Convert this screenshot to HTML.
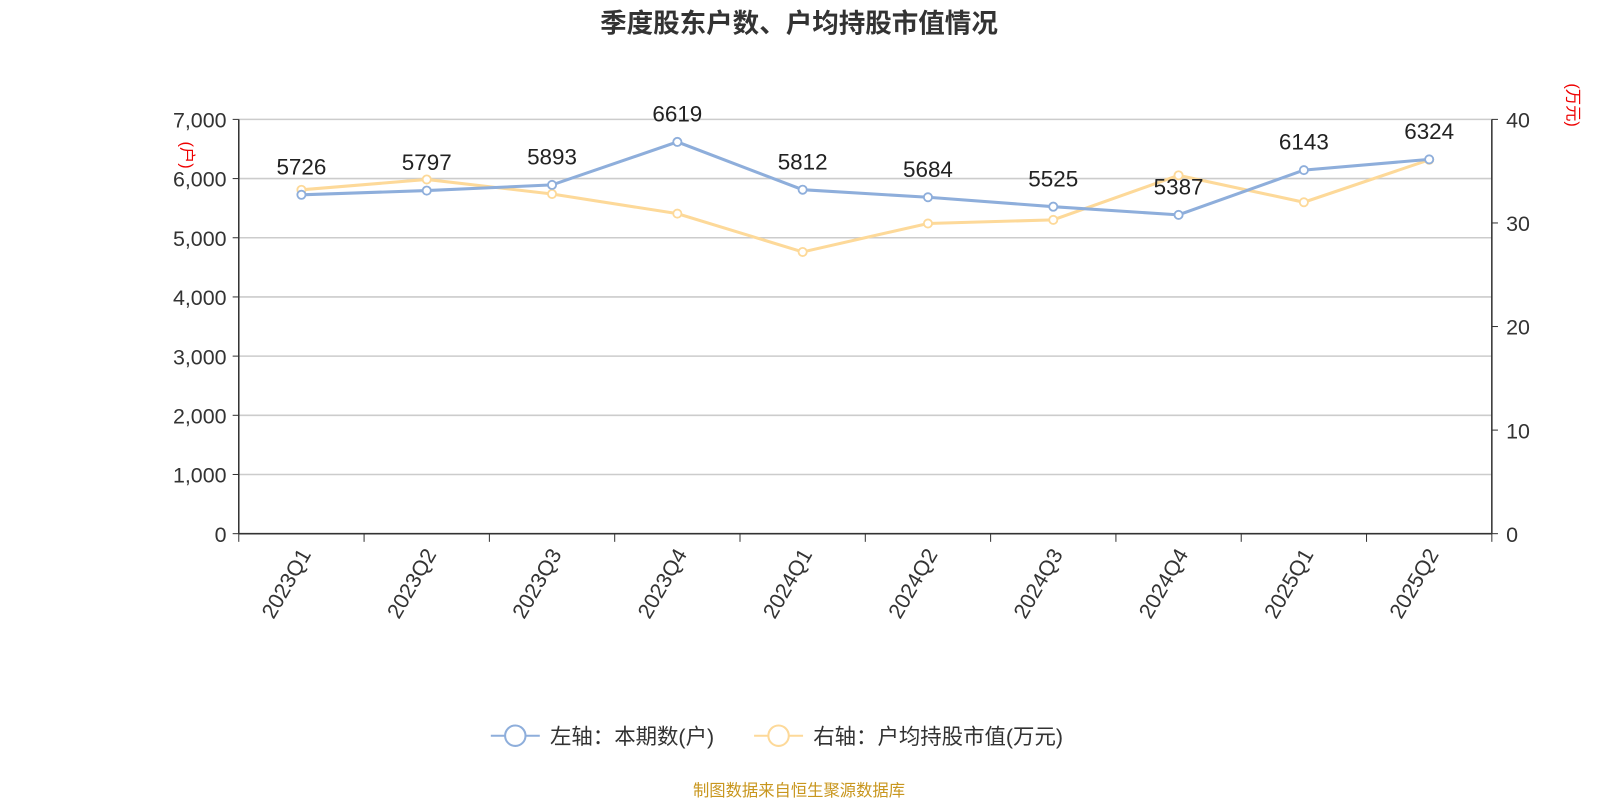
<!DOCTYPE html>
<html><head><meta charset="utf-8"><style>
body{margin:0;background:#fff;width:1600px;height:800px;overflow:hidden;font-family:"Liberation Sans","Noto Sans CJK SC",sans-serif;}
</style></head><body>
<svg id="chart" width="1600" height="800" viewBox="0 0 1568 784" xmlns="http://www.w3.org/2000/svg" font-family="Liberation Sans, Noto Sans CJK SC, sans-serif">
<text x="783" y="32" text-anchor="middle" font-size="26" font-weight="bold" fill="#333">季度股东户数、户均持股市值情况</text>
<g id="grid"></g><g id="axes"></g><g id="series"></g>
<text transform="translate(178,152) rotate(90)" text-anchor="middle" font-size="16" fill="#e00">(户)</text>
<text transform="translate(1536,103) rotate(90)" text-anchor="middle" font-size="16" fill="#e00">(万元)</text>
<g><line x1="481" y1="721" x2="529" y2="721" stroke="#8eaedb" stroke-width="2"/><circle cx="505" cy="721" r="10" fill="#fff" stroke="#8eaedb" stroke-width="2"/><text x="539" y="729" font-size="21" fill="#333">左轴：本期数(户)</text></g>
<g><line x1="739" y1="721" x2="787" y2="721" stroke="#fdd999" stroke-width="2"/><circle cx="763" cy="721" r="10" fill="#fff" stroke="#fdd999" stroke-width="2"/><text x="797" y="729" font-size="21" fill="#333">右轴：户均持股市值(万元)</text></g>
<text x="783" y="780" text-anchor="middle" font-size="16" fill="#c8961e">制图数据来自恒生聚源数据库</text>
</svg>
<script>
const categories=["2023Q1","2023Q2","2023Q3","2023Q4","2024Q1","2024Q2","2024Q3","2024Q4","2025Q1","2025Q2"];
const holders=[5726,5797,5893,6619,5812,5684,5525,5387,6143,6324];
const avgValue=[33.2,34.2,32.8,30.9,27.2,29.95,30.3,34.6,32.0,36.1];
const leftTicks=[0,1000,2000,3000,4000,5000,6000,7000];
const rightTicks=[0,10,20,30,40];
const NS="http://www.w3.org/2000/svg";
const X0=234,X1=1462,Y0=523,Y1=117;
const band=(X1-X0)/categories.length;
const xs=i=>X0+band*(i+0.5);
const yl=v=>Y0-(v/7000)*(Y0-Y1);
const yr=v=>Y0-(v/40)*(Y0-Y1);
function mk(t,a,p,txt){const e=document.createElementNS(NS,t);for(const k in a)e.setAttribute(k,a[k]);if(txt!==undefined)e.textContent=txt;p.appendChild(e);return e;}
const grid=document.getElementById('grid'),axes=document.getElementById('axes'),ser=document.getElementById('series');
leftTicks.forEach(v=>{const y=yl(v);
 if(v>0){const g=mk('line',{x1:X0,x2:X1,y1:y,y2:y,stroke:'#ccc','stroke-width':1.5},grid);
 
 }
 mk('line',{x1:X0-6,x2:X0,y1:y,y2:y,stroke:'#333'},axes);
 const t=mk('text',{x:X0-12,y:y+8,'text-anchor':'end','font-size':21,fill:'#333'},axes,v.toLocaleString('en-US'));
 
 });
rightTicks.forEach(v=>{const y=yr(v);
 mk('line',{x1:X1,x2:X1+6,y1:y,y2:y,stroke:'#333'},axes);
 const t=mk('text',{x:X1+14,y:y+8,'font-size':21,fill:'#333'},axes,String(v));
 
 });
mk('line',{x1:X0,x2:X0,y1:Y1,y2:Y0,stroke:'#333','stroke-width':1.5},axes);
mk('line',{x1:X1,x2:X1,y1:Y1,y2:Y0,stroke:'#333','stroke-width':1.5},axes);
mk('line',{x1:X0,x2:X1,y1:Y0,y2:Y0,stroke:'#333','stroke-width':1.5},axes);
for(let i=0;i<=categories.length;i++){const x=X0+band*i;mk('line',{x1:x,x2:x,y1:Y0,y2:Y0+8,stroke:'#333'},axes);}
categories.forEach((c,i)=>{const x=xs(i);
 const t=mk('text',{transform:`translate(${x+10},${Y0+20}) rotate(-60)`,'text-anchor':'end','font-size':21,fill:'#333'},axes,c);
 
 });
function line(vals,yf,color,name){
 const p=mk('polyline',{points:vals.map((v,i)=>xs(i)+','+yf(v)).join(' '),fill:'none',stroke:color,'stroke-width':3},ser);
 
 
 vals.forEach((v,i)=>{const c=mk('circle',{cx:xs(i),cy:yf(v),r:4,fill:'#fff',stroke:color,'stroke-width':1.8},ser);
 
 });
}
line(avgValue,yr,'#fdd999','avg-value');
line(holders,yl,'#8eaedb','holders');
holders.forEach((v,i)=>{const t=mk('text',{x:xs(i),y:yl(v)-20,'text-anchor':'middle','font-size':22,fill:'#222'},ser,String(v));
 
 });
</script>
</body></html>
